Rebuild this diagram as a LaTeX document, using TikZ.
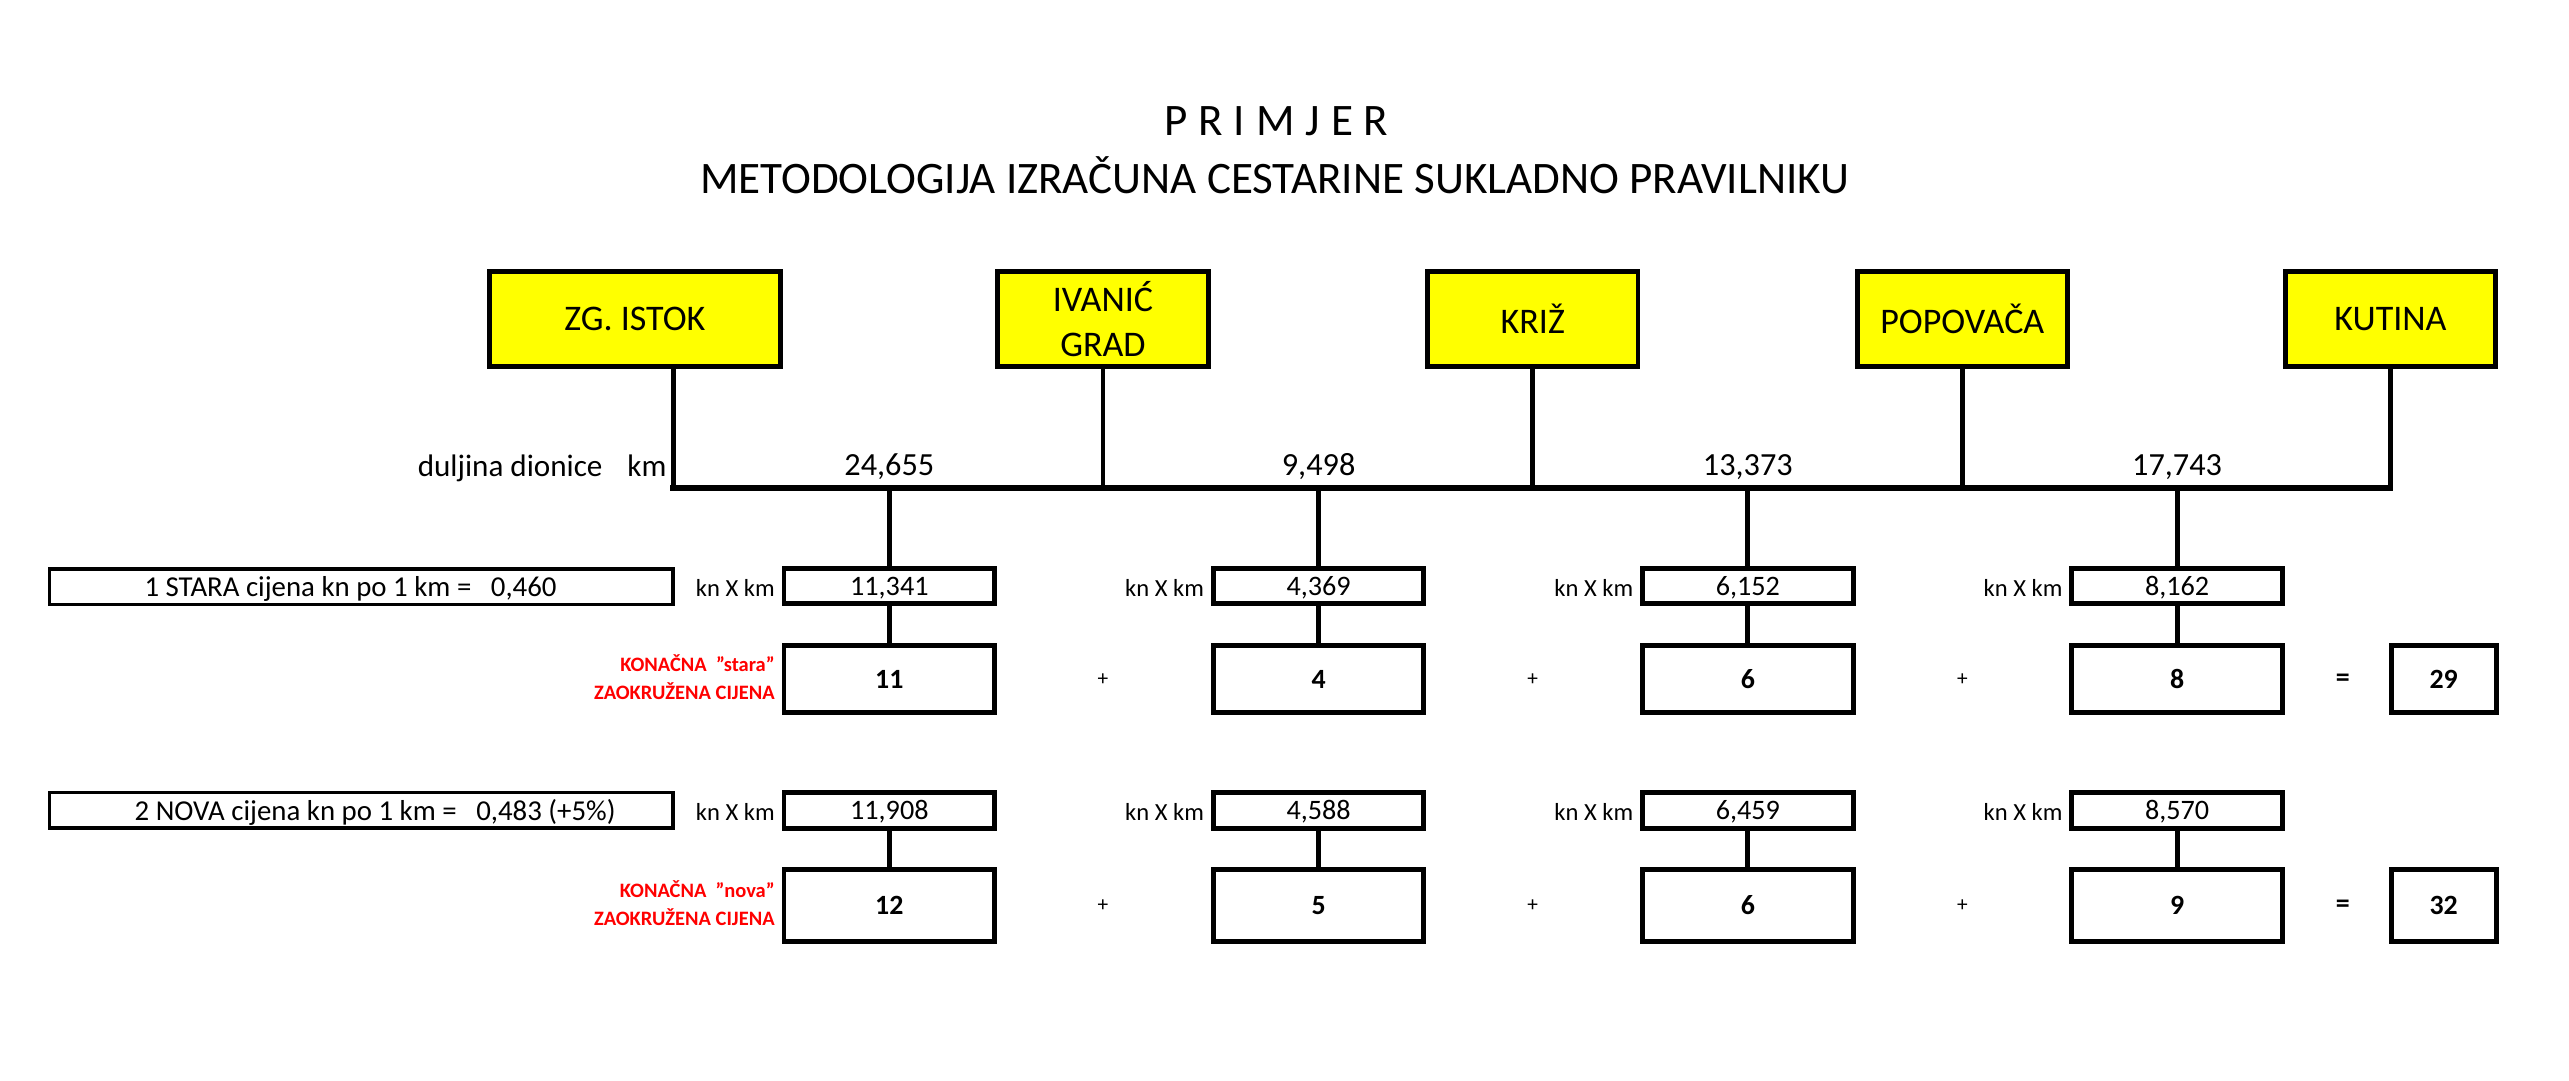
\documentclass[tikz,border=0pt]{standalone}
\usepackage{fontspec}
\setmainfont{Carlito}
\definecolor{stationyellow}{RGB}{255,255,0}
\definecolor{labelred}{RGB}{255,0,0}
\newcommand\lsp{\hspace{6.7pt}}
\begin{document}
\begin{tikzpicture}[x=1pt,y=-1pt,
  station/.style={draw, line width=3pt, fill=stationyellow, minimum height=58.5pt, minimum width=128.5pt, inner sep=0pt, align=center, font=\fontsize{22}{27.5}\selectfont},
  knbox/.style={draw, line width=3pt, minimum width=128.6pt, inner sep=0pt, text depth=0pt, font=\fontsize{17.2}{20}\selectfont},
  resbox/.style={draw, line width=3pt, minimum width=128.6pt, inner sep=0pt, text depth=0pt, font=\bfseries\fontsize{17}{20}\selectfont},
  sumbox/.style={draw, line width=3pt, minimum width=64pt, inner sep=0pt, text depth=0pt, font=\bfseries\fontsize{17}{20}\selectfont},
  pricebox/.style={draw, line width=2.2pt, minimum width=380.8pt, minimum height=21.8pt, inner sep=0pt},
  pricetext/.style={anchor=base west, inner sep=0pt, font=\fontsize{17.6}{20}\selectfont},
  kxk/.style={anchor=base east, inner sep=0pt, font=\fontsize{15}{18}\selectfont},
  dist/.style={anchor=base, inner sep=0pt, font=\fontsize{19.7}{22}\selectfont},
  redlabel/.style={anchor=base east, inner sep=0pt, text=labelred, font=\bfseries\fontsize{12.5}{15}\selectfont},
  plussign/.style={inner sep=0pt, font=\fontsize{13}{15}\selectfont},
  eqsign/.style={inner sep=0pt, font=\bfseries\fontsize{17}{20}\selectfont},
  titletext/.style={anchor=base, inner sep=0pt, font=\fontsize{27.5}{33}\selectfont},
  conn/.style={line width=3pt},
  mainline/.style={line width=3.6pt, line cap=rect},
]
\fill[white] (0,0) rectangle (1568,659.2);
\useasboundingbox (0,0) rectangle (1568,659.2);

% titles
\node[titletext] (t1) at (779,82.5) {P\lsp R\lsp I\lsp M\lsp J\lsp E\lsp R};
\node[titletext] (t2) at (778,118) {METODOLOGIJA IZRAČUNA CESTARINE SUKLADNO PRAVILNIKU};

% stations
\node[station, minimum width=178pt] (zg) at (387.5,194.7) {ZG. ISTOK};
\node[station] (iv) at (673.2,194.7) {IVANIĆ\\GRAD};
\node[station] (kr) at (935.5,194.7) {KRIŽ};
\node[station] (po) at (1197.7,194.7) {POPOVAČA};
\node[station] (ku) at (1459,194.7) {KUTINA};

% junctions on the main line
\coordinate (j0) at (411,298);
\coordinate (j1) at (673.2,298);
\coordinate (j2) at (935.5,298);
\coordinate (j3) at (1197.7,298);
\coordinate (j4) at (1459,298);
\coordinate (d1) at (542.8,298);
\coordinate (d2) at (804.8,298);
\coordinate (d3) at (1066.8,298);
\coordinate (d4) at (1328.8,298);

\draw[conn] (zg.south -| j0) -- (j0);
\draw[conn] (iv.south) -- (j1);
\draw[conn] (kr.south) -- (j2);
\draw[conn] (po.south) -- (j3);
\draw[conn] (ku.south) -- (j4);
\draw[mainline] (j0) -- (j4);

% distance labels
\node[dist, anchor=base east, font=\fontsize{19}{22}\selectfont] (dl) at (368,291) {duljina dionice};
\node[dist, anchor=base east, font=\fontsize{19}{22}\selectfont] (dkm) at (407,291) {km};
\node[dist] (s1) at (542.8,290) {24,655};
\node[dist] (s2) at (804.8,290) {9,498};
\node[dist] (s3) at (1066.8,290) {13,373};
\node[dist] (s4) at (1328.8,290) {17,743};

% row 1 (stara)
\node[pricebox] (p1) at (220.5,358) {};
\node[pricetext] (p1t) at (88,364) {1 STARA cijena kn po 1 km =\ \ \ 0,460};

\node[knbox, minimum height=21pt] (ka1) at (542.8,357.6) {11,341};
\node[knbox, minimum height=21pt] (ka2) at (804.8,357.6) {4,369};
\node[knbox, minimum height=21pt] (ka3) at (1066.8,357.6) {6,152};
\node[knbox, minimum height=21pt] (ka4) at (1328.8,357.6) {8,162};
\node[kxk] (la1) at (473,364.3) {kn X km};
\node[kxk] (la2) at (735,364.3) {kn X km};
\node[kxk] (la3) at (997,364.3) {kn X km};
\node[kxk] (la4) at (1259,364.3) {kn X km};

\node[resbox, minimum height=41pt] (ra1) at (542.8,414.5) {11};
\node[resbox, minimum height=41pt] (ra2) at (804.8,414.5) {4};
\node[resbox, minimum height=41pt] (ra3) at (1066.8,414.5) {6};
\node[resbox, minimum height=41pt] (ra4) at (1328.8,414.5) {8};
\node[sumbox, minimum height=41pt] (ra5) at (1491.5,414.5) {29};
\node[plussign] (pa1) at (673.2,415) {+};
\node[plussign] (pa2) at (935.5,415) {+};
\node[plussign] (pa3) at (1197.7,415) {+};
\node[eqsign] (ea) at (1430,415) {=};
\node[redlabel] (rla) at (473,410) {KONAČNA\ \ "stara"};
\node[redlabel] (rlb) at (473,427) {ZAOKRUŽENA CIJENA};

\draw[conn] (d1) -- (ka1.north);
\draw[conn] (d2) -- (ka2.north);
\draw[conn] (d3) -- (ka3.north);
\draw[conn] (d4) -- (ka4.north);
\draw[conn] (ka1) -- (ra1);
\draw[conn] (ka2) -- (ra2);
\draw[conn] (ka3) -- (ra3);
\draw[conn] (ka4) -- (ra4);

% row 2 (nova)
\node[pricebox] (p2) at (220.5,494.5) {};
\node[pricetext] (p2t) at (82,500.5) {2 NOVA cijena kn po 1 km =\ \ \ 0,483 (+5\%)};

\node[knbox, minimum height=22pt] (kb1) at (542.8,494.5) {11,908};
\node[knbox, minimum height=22pt] (kb2) at (804.8,494.5) {4,588};
\node[knbox, minimum height=22pt] (kb3) at (1066.8,494.5) {6,459};
\node[knbox, minimum height=22pt] (kb4) at (1328.8,494.5) {8,570};
\node[kxk] (lb1) at (473,500.8) {kn X km};
\node[kxk] (lb2) at (735,500.8) {kn X km};
\node[kxk] (lb3) at (997,500.8) {kn X km};
\node[kxk] (lb4) at (1259,500.8) {kn X km};

\node[resbox, minimum height=44pt] (rb1) at (542.8,552.5) {12};
\node[resbox, minimum height=44pt] (rb2) at (804.8,552.5) {5};
\node[resbox, minimum height=44pt] (rb3) at (1066.8,552.5) {6};
\node[resbox, minimum height=44pt] (rb4) at (1328.8,552.5) {9};
\node[sumbox, minimum height=44pt] (rb5) at (1491.5,552.5) {32};
\node[plussign] (pb1) at (673.2,553) {+};
\node[plussign] (pb2) at (935.5,553) {+};
\node[plussign] (pb3) at (1197.7,553) {+};
\node[eqsign] (eb) at (1430,553) {=};
\node[redlabel] (rlc) at (473,548) {KONAČNA\ \ "nova"};
\node[redlabel] (rld) at (473,564.8) {ZAOKRUŽENA CIJENA};

\draw[conn] (kb1) -- (rb1);
\draw[conn] (kb2) -- (rb2);
\draw[conn] (kb3) -- (rb3);
\draw[conn] (kb4) -- (rb4);
\end{tikzpicture}
\end{document}
